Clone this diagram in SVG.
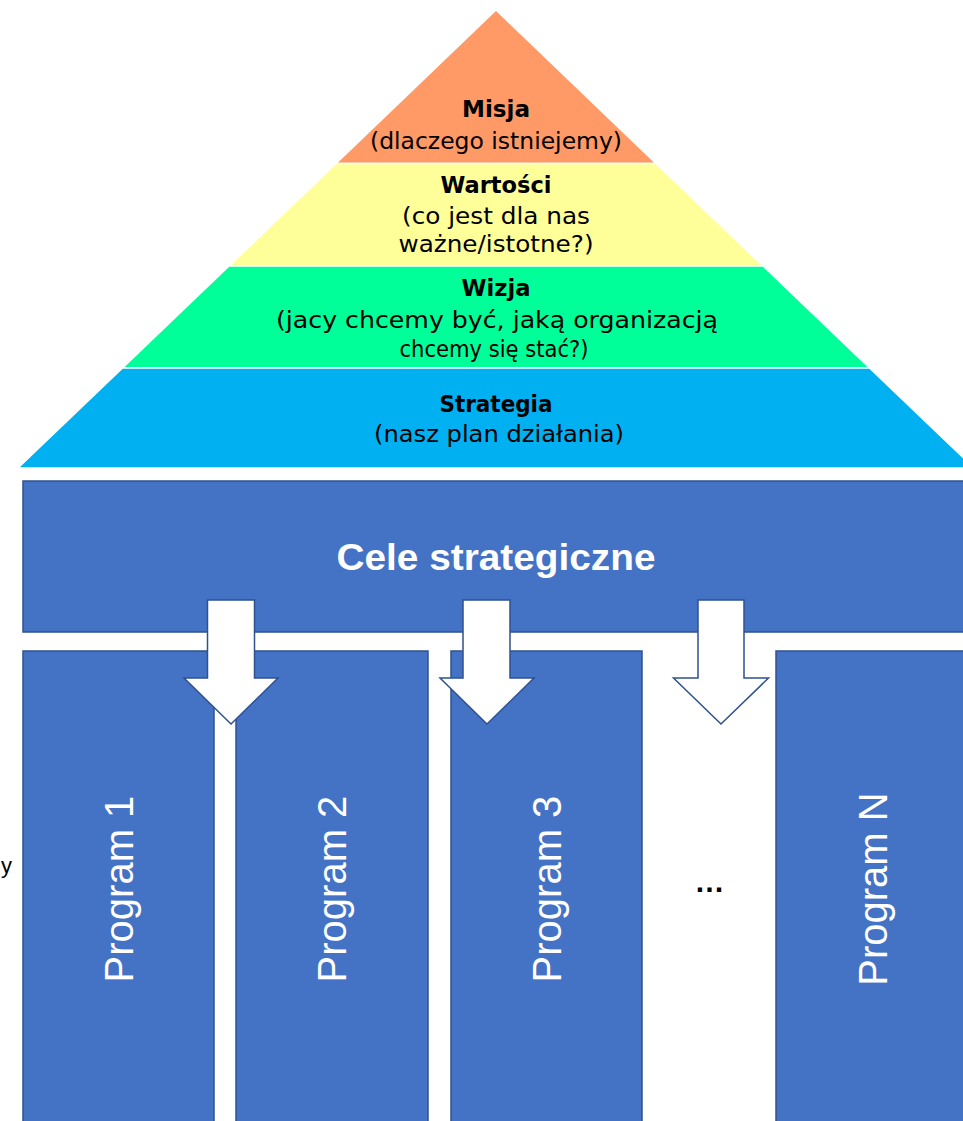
<svg xmlns="http://www.w3.org/2000/svg" width="963" height="1121" viewBox="0 0 963 1121">
<style>
.band{stroke:#ffffff;stroke-width:1.5}
.pt{font-family:"DejaVu Sans","Liberation Sans",sans-serif;font-size:23px;fill:#000;text-anchor:middle}
.pb{font-weight:bold}
.box{fill:#4472C4;stroke:#2F528F;stroke-width:1.5}
.prog{font-family:"Liberation Sans",Arial,sans-serif;font-size:40px;fill:#ffffff;text-anchor:middle}
.arrow{fill:#ffffff;stroke:#2F528F;stroke-width:1.5;stroke-linejoin:miter}
</style>
<rect width="963" height="1121" fill="#ffffff"/>
<g id="pyramid">
<g id="misja">
<polygon class="band" fill="#FF9966" points="496,10 656,163.5 336,163.5"/>
<text class="pt pb" x="496" y="117" textLength="68" lengthAdjust="spacingAndGlyphs">Misja</text>
<text class="pt" x="496" y="149" textLength="252" lengthAdjust="spacingAndGlyphs">(dlaczego istniejemy)</text>
</g>
<g id="wartosci">
<polygon class="band" fill="#FFFF99" points="336,163.5 656,163.5 763,266 229,266"/>
<text class="pt pb" x="496" y="193" textLength="111" lengthAdjust="spacingAndGlyphs">Wartości</text>
<text class="pt" x="496" y="224" textLength="188" lengthAdjust="spacingAndGlyphs">(co jest dla nas</text>
<text class="pt" x="496" y="252" textLength="195" lengthAdjust="spacingAndGlyphs">ważne/istotne?)</text>
</g>
<g id="wizja">
<polygon class="band" fill="#00FF99" points="229,266 763,266 869.5,368 122.5,368"/>
<text class="pt pb" x="496" y="296" textLength="69" lengthAdjust="spacingAndGlyphs">Wizja</text>
<text class="pt" x="497" y="328" textLength="442" lengthAdjust="spacingAndGlyphs">(jacy chcemy być, jaką organizacją</text>
<text class="pt" x="494" y="357" textLength="189" lengthAdjust="spacingAndGlyphs">chcemy się stać?)</text>
</g>
<g id="strategia">
<polygon class="band" fill="#00B0F0" points="122.5,368 869.5,368 974,468 18,468"/>
<text class="pt pb" x="496" y="412" textLength="113" lengthAdjust="spacingAndGlyphs">Strategia</text>
<text class="pt" x="499" y="442" textLength="250" lengthAdjust="spacingAndGlyphs">(nasz plan działania)</text>
</g>
</g>
<g id="cele">
<rect class="box" x="23" y="481" width="960" height="151"/>
<text x="496" y="570" font-family="'Liberation Sans',Arial,sans-serif" font-weight="bold" font-size="37" fill="#ffffff" text-anchor="middle" textLength="319" lengthAdjust="spacingAndGlyphs">Cele strategiczne</text>
</g>
<g id="program1">
<rect class="box" x="23" y="651" width="191" height="490"/>
<text class="prog" transform="translate(132.5,889) rotate(-90)" x="0" y="0">Program 1</text>
</g>
<g id="program2">
<rect class="box" x="236" y="651" width="192" height="490"/>
<text class="prog" transform="translate(346,889) rotate(-90)" x="0" y="0">Program 2</text>
</g>
<g id="program3">
<rect class="box" x="451" y="651" width="191" height="490"/>
<text class="prog" transform="translate(561,889) rotate(-90)" x="0" y="0">Program 3</text>
</g>
<g id="ellipsis">
<text x="709.5" y="892" font-family="'Liberation Sans',Arial,sans-serif" font-weight="bold" font-size="30" fill="#000" text-anchor="middle">…</text>
</g>
<g id="programN">
<rect class="box" x="776" y="651" width="220" height="490"/>
<text class="prog" transform="translate(887,889) rotate(-90)" x="0" y="0">Program N</text>
</g>
<g id="connectors">
<polygon class="arrow" points="207.5,600 254.5,600 254.5,678 278,678 231,724 184,678 207.5,678"/>
<polygon class="arrow" points="463,600 510,600 510,678 534,678 487,724 440,678 463,678"/>
<polygon class="arrow" points="698,600 744,600 744,678 768.5,678 721,724 673.5,678 698,678"/>
</g>
<text x="1" y="873" font-family="'Liberation Sans',Arial,sans-serif" font-size="22" fill="#000">y</text>
</svg>
